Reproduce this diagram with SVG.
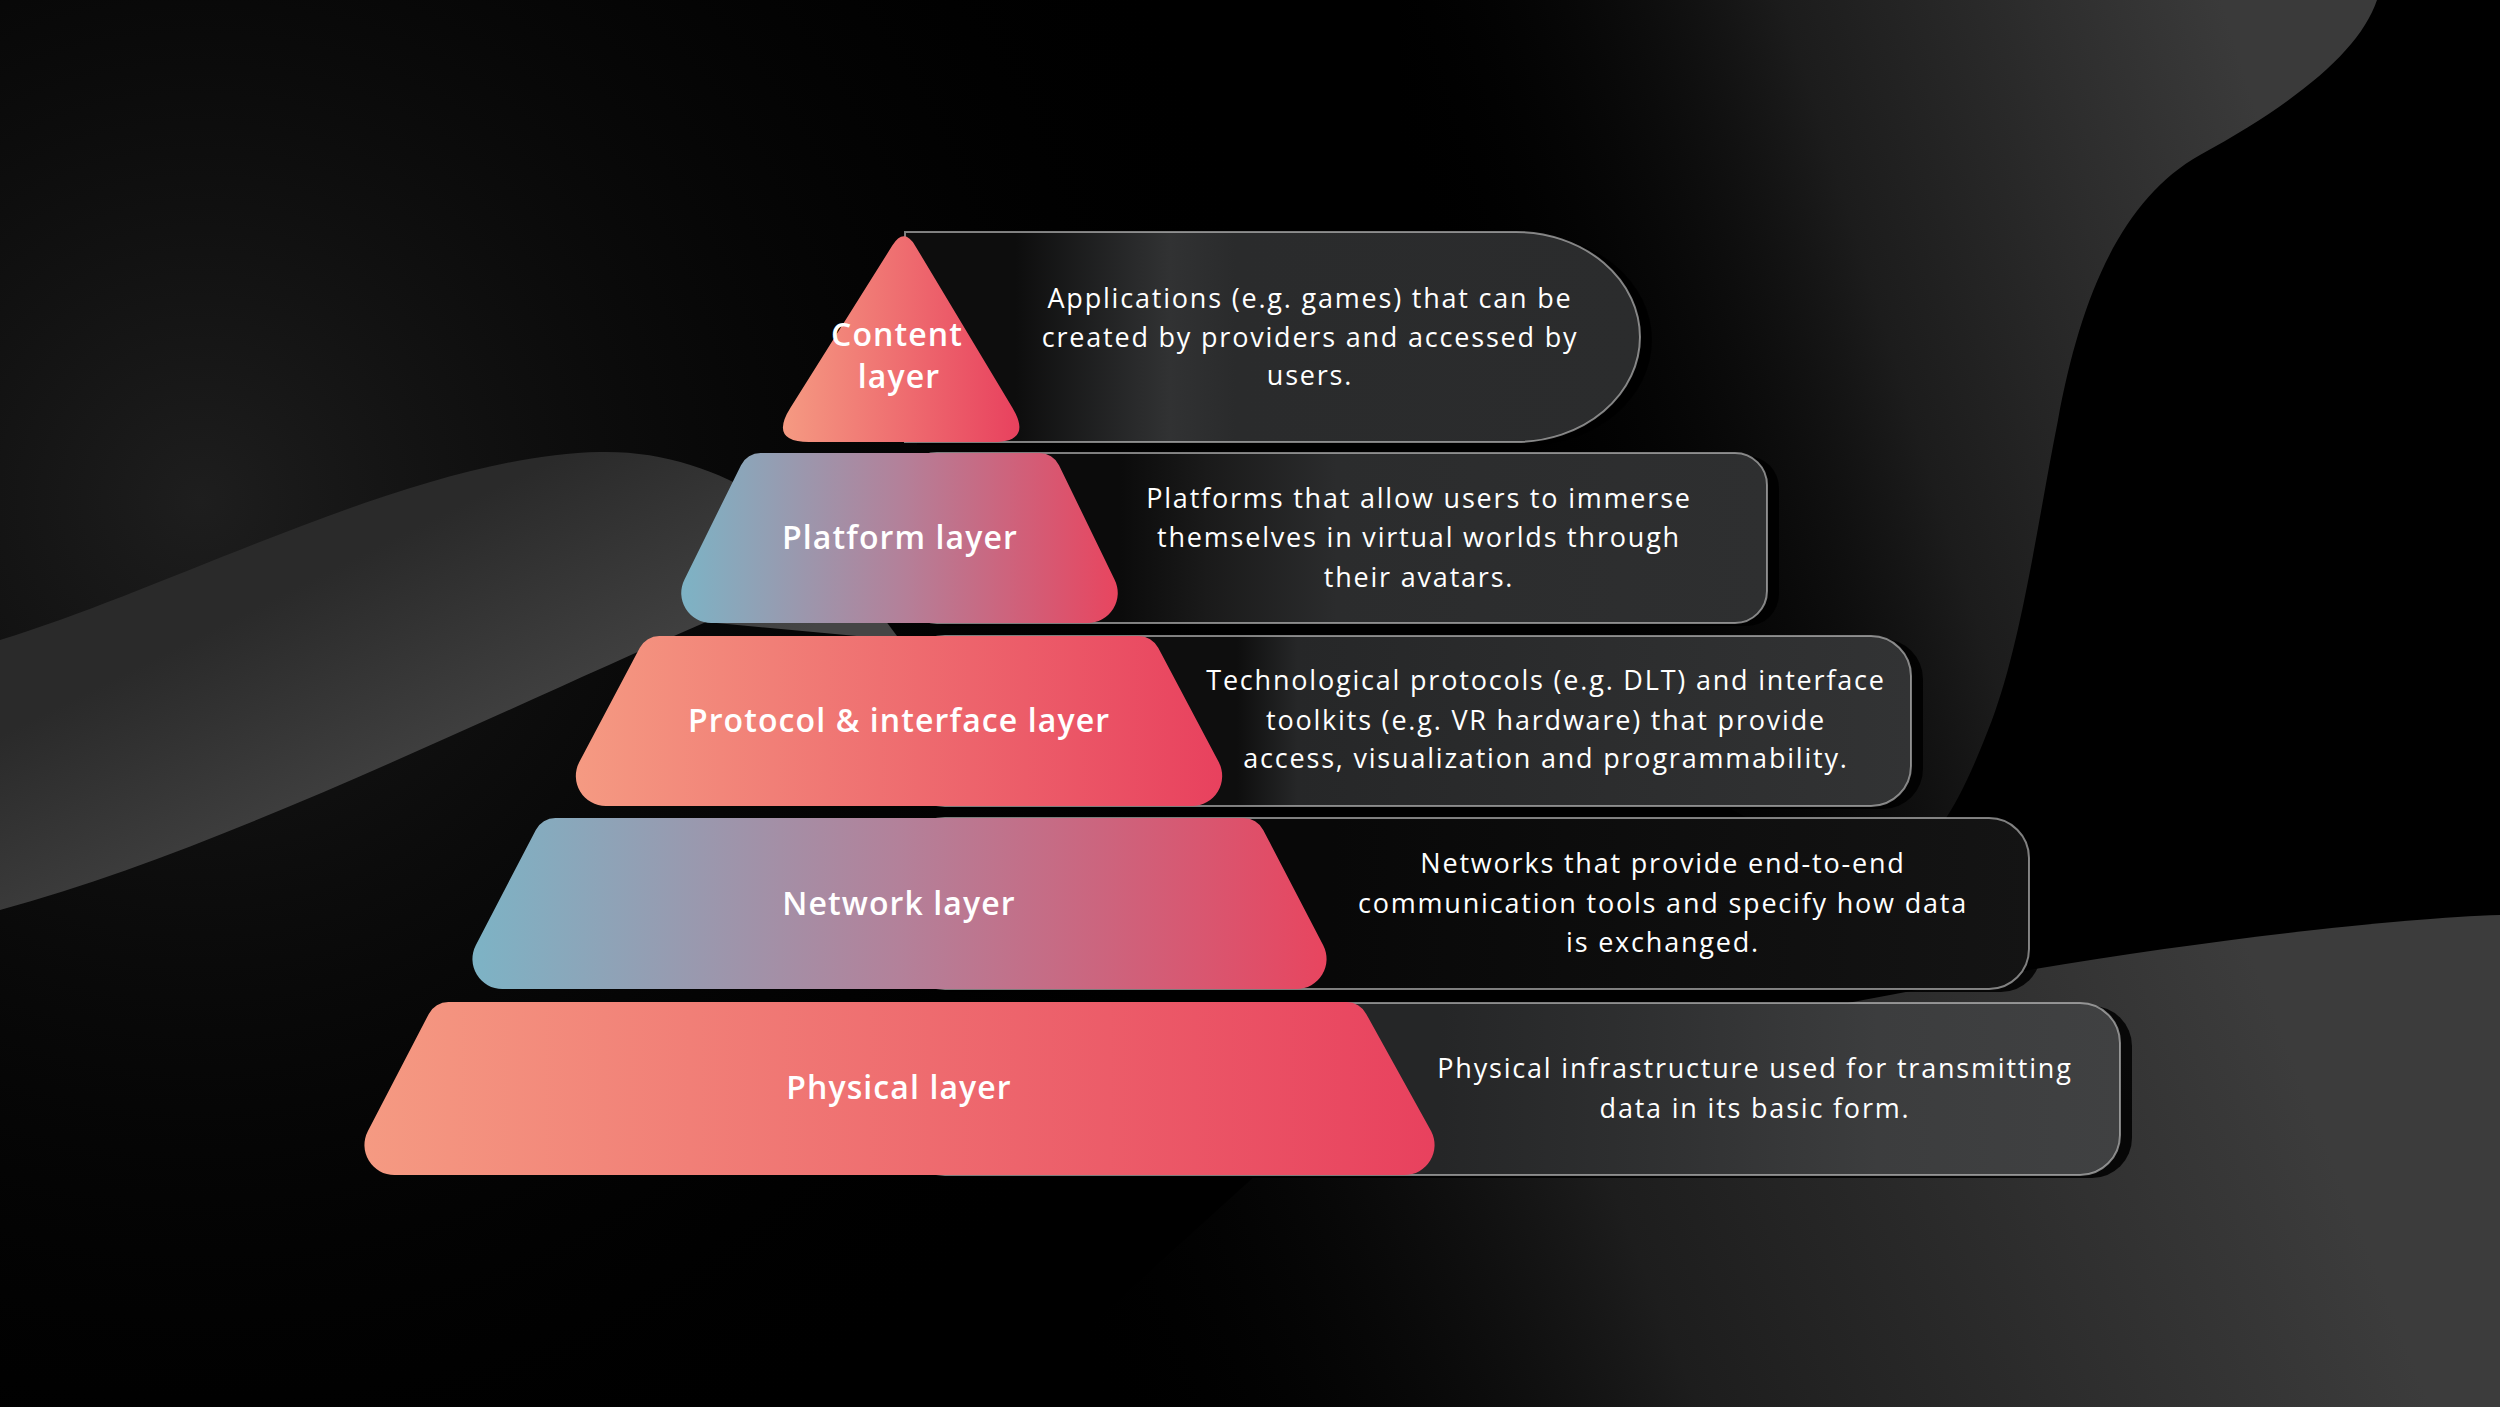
<svg xmlns="http://www.w3.org/2000/svg" width="2500" height="1407" viewBox="0 0 2500 1407">
<defs>
  <linearGradient id="salmon" x1="0" y1="0" x2="1" y2="0">
    <stop offset="0" stop-color="#f59a82"/><stop offset="1" stop-color="#e8415e"/>
  </linearGradient>
  <linearGradient id="blue" x1="0" y1="0" x2="1" y2="0">
    <stop offset="0" stop-color="#7db3c5"/><stop offset="0.5" stop-color="#b3819a"/><stop offset="1" stop-color="#e8455f"/>
  </linearGradient>
  <radialGradient id="glowTL" cx="200" cy="500" r="1100" gradientUnits="userSpaceOnUse">
    <stop offset="0" stop-color="#1e1e1e"/><stop offset="1" stop-color="#000" stop-opacity="0"/>
  </radialGradient>
  <linearGradient id="bandG" x1="350" y1="560" x2="470" y2="800" gradientUnits="userSpaceOnUse">
    <stop offset="0" stop-color="#2a2a2a"/><stop offset="1" stop-color="#454545"/>
  </linearGradient>
  <linearGradient id="blobG" x1="1500" y1="500" x2="2300" y2="250" gradientUnits="userSpaceOnUse">
    <stop offset="0" stop-color="#000" stop-opacity="0"/><stop offset="0.5" stop-color="#1c1c1c"/><stop offset="1" stop-color="#3a3a3a"/>
  </linearGradient>
  <linearGradient id="botG" x1="1100" y1="1407" x2="2250" y2="950" gradientUnits="userSpaceOnUse">
    <stop offset="0" stop-color="#000" stop-opacity="0"/><stop offset="0.45" stop-color="#1d1d1d"/><stop offset="1" stop-color="#3c3c3c"/>
  </linearGradient>
  <linearGradient id="bx1" x1="0" y1="0" x2="1" y2="0">
    <stop offset="0.15" stop-color="#0d0d0d"/><stop offset="0.3" stop-color="#272829"/><stop offset="0.36" stop-color="#313233"/><stop offset="0.45" stop-color="#2a2b2c"/><stop offset="1" stop-color="#2b2c2d"/>
  </linearGradient>
  <linearGradient id="bx2" x1="0" y1="0" x2="1" y2="0">
    <stop offset="0.25" stop-color="#0b0b0b"/><stop offset="0.35" stop-color="#1a1a1a"/><stop offset="0.5" stop-color="#2b2c2d"/><stop offset="1" stop-color="#2e2f30"/>
  </linearGradient>
  <linearGradient id="bx3" x1="0" y1="0" x2="1" y2="0">
    <stop offset="0.33" stop-color="#0e0e0e"/><stop offset="0.39" stop-color="#262728"/><stop offset="0.6" stop-color="#2a2b2c"/><stop offset="1" stop-color="#323334"/>
  </linearGradient>
  <linearGradient id="bx4" x1="0" y1="0" x2="1" y2="0">
    <stop offset="0.38" stop-color="#080808"/><stop offset="1" stop-color="#141414"/>
  </linearGradient>
  <linearGradient id="bx5" x1="0" y1="0" x2="1" y2="0">
    <stop offset="0.44" stop-color="#252627"/><stop offset="0.6" stop-color="#2e2f30"/><stop offset="0.8" stop-color="#3c3d3e"/><stop offset="1" stop-color="#404142"/>
  </linearGradient>
</defs>
<style>
  .lbl{font-family:"Open Sans",Lato,sans-serif;font-weight:600;font-size:32px;letter-spacing:1.1px;fill:#ffffff;text-anchor:middle}
  .desc{font-family:"Open Sans",Lato,sans-serif;font-weight:400;font-size:27px;letter-spacing:1.8px;fill:#ffffff;text-anchor:middle}
  .box{stroke:#d0d0d0;stroke-opacity:0.6;stroke-width:2}
  .shadow{fill:#000;opacity:0.85}
</style>

<g id="background">
  <rect width="2500" height="1407" fill="#000"/>
  <rect width="2500" height="1407" fill="url(#glowTL)"/>
  <path d="M0,640 C180,585 420,455 600,452 C700,450 780,500 840,560 L900,640 L706,622 C480,720 220,850 0,910 Z" fill="url(#bandG)"/>
  <path d="M1400,0 L2377,0 C2360,50 2300,100 2200,155 C2120,200 2080,300 2058,420 C2038,520 2022,640 1992,720 C1965,790 1940,845 1900,858 C1850,872 1780,840 1700,790 L1400,600 Z" fill="url(#blobG)"/>
  <path d="M1300,1135 C1550,1060 1800,1010 2000,975 C2200,940 2400,918 2500,915 V1407 H1000 Z" fill="url(#botG)"/>
</g>

<g id="physical">
  <rect class="shadow" x="917" y="1006" width="1215" height="172" rx="40"/>
  <rect class="box" x="905" y="1003" width="1215" height="172" rx="40" fill="url(#bx5)"/>
  <path d="M448.4,1002 L1346.6,1002 A22,22 0 0 1 1366.2,1013.9 L1431.2,1131.2 A30,30 0 0 1 1404.6,1175 L394.4,1175 A30,30 0 0 1 367.8,1131.2 L428.8,1013.9 A22,22 0 0 1 448.4,1002 Z" fill="url(#salmon)"/>
  <text class="lbl" x="899" y="1099">Physical layer</text>
  <text class="desc" x="1755" y="1078">Physical infrastructure used for transmitting</text>
  <text class="desc" x="1755" y="1118">data in its basic form.</text>
</g>

<g id="network">
  <rect class="shadow" x="917" y="821" width="1124" height="171" rx="40"/>
  <rect class="box" x="905" y="818" width="1124" height="171" rx="40" fill="url(#bx4)"/>
  <path d="M555.4,818 L1243.6,818 A22,22 0 0 1 1263.2,829.9 L1323.2,945.2 A30,30 0 0 1 1296.6,989 L502.4,989 A30,30 0 0 1 475.8,945.2 L535.8,829.9 A22,22 0 0 1 555.4,818 Z" fill="url(#blue)"/>
  <text class="lbl" x="899" y="915">Network layer</text>
  <text class="desc" x="1663" y="873">Networks that provide end-to-end</text>
  <text class="desc" x="1663" y="913">communication tools and specify how data</text>
  <text class="desc" x="1663" y="952">is exchanged.</text>
</g>

<g id="protocol">
  <rect class="shadow" x="917" y="639" width="1006" height="170" rx="40"/>
  <rect class="box" x="905" y="636" width="1006" height="170" rx="40" fill="url(#bx3)"/>
  <path d="M659.3,636 L1138.7,636 A22,22 0 0 1 1158.2,647.8 L1218.7,762 A30,30 0 0 1 1192.2,806 L605.8,806 A30,30 0 0 1 579.3,762 L639.8,647.8 A22,22 0 0 1 659.3,636 Z" fill="url(#salmon)"/>
  <text class="lbl" x="899" y="732">Protocol &amp; interface layer</text>
  <text class="desc" x="1546" y="690">Technological protocols (e.g. DLT) and interface</text>
  <text class="desc" x="1546" y="730">toolkits (e.g. VR hardware) that provide</text>
  <text class="desc" x="1546" y="768">access, visualization and programmability.</text>
</g>

<g id="platform">
  <rect class="shadow" x="917" y="456" width="862" height="170" rx="32"/>
  <rect class="box" x="905" y="453" width="862" height="170" rx="32" fill="url(#bx2)"/>
  <path d="M760.6,453 L1039.4,453 A22,22 0 0 1 1059,465.2 L1114.5,579.4 A30,30 0 0 1 1087.4,623 L711.6,623 A30,30 0 0 1 684.5,579.4 L741,465.2 A22,22 0 0 1 760.6,453 Z" fill="url(#blue)"/>
  <text class="lbl" x="900" y="549">Platform layer</text>
  <text class="desc" x="1419" y="508">Platforms that allow users to immerse</text>
  <text class="desc" x="1419" y="547">themselves in virtual worlds through</text>
  <text class="desc" x="1419" y="587">their avatars.</text>
</g>

<g id="content">
  <path class="shadow" d="M917,235 H1528 A124,105 0 0 1 1528,445 H917 Z"/>
  <path class="box" d="M905,232 H1516 A124,105 0 0 1 1516,442 H905 Z" fill="url(#bx1)"/>
  <path d="M892.3,245.6 Q904,227 915.3,245.9 L1012.4,407.7 Q1033,442 993,442 L809,442 Q769,442 790.3,408.1 Z" fill="url(#salmon)"/>
  <text class="lbl" x="897" y="346">Content</text>
  <text class="lbl" x="899" y="388">layer</text>
  <text class="desc" x="1310" y="308">Applications (e.g. games) that can be</text>
  <text class="desc" x="1310" y="347">created by providers and accessed by</text>
  <text class="desc" x="1310" y="385">users.</text>
</g>
</svg>
